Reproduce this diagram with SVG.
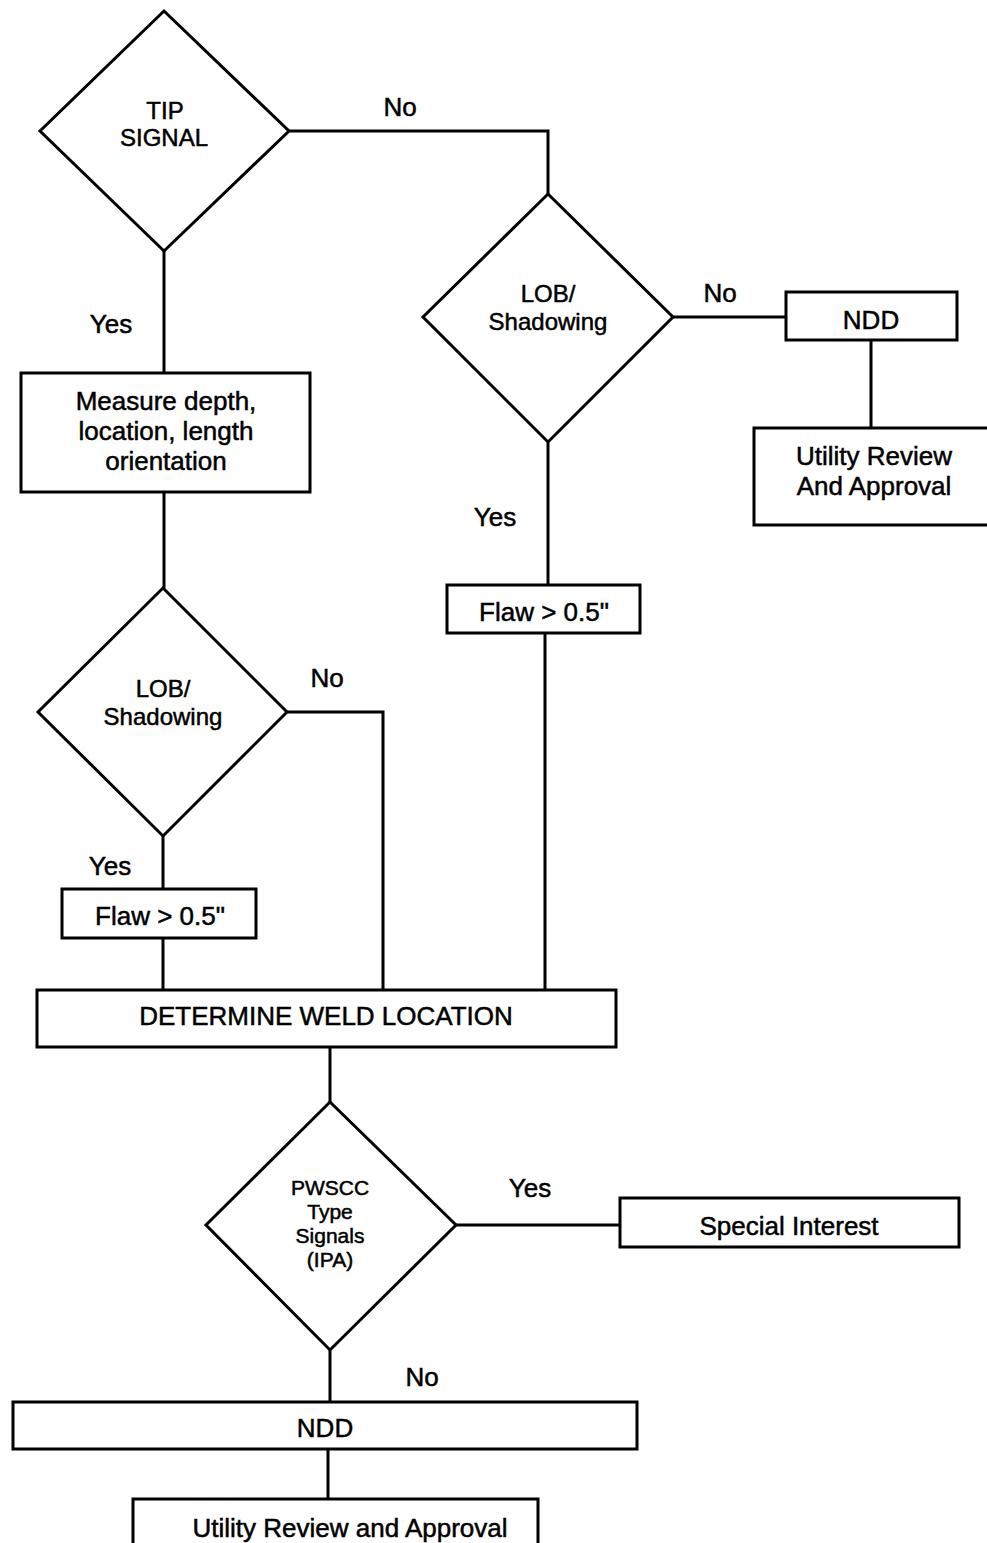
<svg xmlns="http://www.w3.org/2000/svg" width="987" height="1543" viewBox="0 0 987 1543">
<style>
.s{fill:#fff;stroke:#000;stroke-width:3;stroke-linejoin:miter}
.c{fill:none;stroke:#000;stroke-width:3}
text{font-family:"Liberation Sans",Arial,sans-serif;font-size:26px;fill:#000;stroke:#000;stroke-width:0.5;text-anchor:middle}
.d{font-size:24px}
.p{font-size:21px}
</style>
<rect width="987" height="1543" fill="#fff"/>
<g id="connectors">
<polyline class="c" points="289,131 548,131 548,194"/>
<line class="c" x1="164" y1="251" x2="164" y2="373"/>
<line class="c" x1="164" y1="492" x2="164" y2="588"/>
<line class="c" x1="673" y1="317" x2="786" y2="317"/>
<line class="c" x1="871" y1="340" x2="871" y2="428"/>
<line class="c" x1="548" y1="442" x2="548" y2="585"/>
<line class="c" x1="545" y1="633" x2="545" y2="990"/>
<polyline class="c" points="287,712 383,712 383,990"/>
<line class="c" x1="163" y1="836" x2="163" y2="889"/>
<line class="c" x1="163" y1="938" x2="163" y2="990"/>
<line class="c" x1="330" y1="1047" x2="330" y2="1102"/>
<line class="c" x1="456" y1="1225" x2="620" y2="1225"/>
<line class="c" x1="330" y1="1350" x2="330" y2="1402"/>
<line class="c" x1="328" y1="1449" x2="328" y2="1499"/>
<text x="400" y="116">No</text>
<text x="111" y="333">Yes</text>
<text x="720" y="302">No</text>
<text x="495" y="526">Yes</text>
<text x="327" y="687">No</text>
<text x="110" y="875">Yes</text>
<text x="530" y="1197">Yes</text>
<text x="422" y="1386">No</text>
</g>
<g id="tip">
<polygon class="s" points="164,11 289,131 164,251 40,131"/>
<text class="d" x="165" y="119">TIP</text>
<text class="d" x="164" y="146">SIGNAL</text>
</g>
<g id="measure">
<rect class="s" x="21" y="373" width="289" height="119"/>
<text x="166" y="410">Measure depth,</text>
<text x="166" y="440">location, length</text>
<text x="166" y="470">orientation</text>
</g>
<g id="lob-right">
<polygon class="s" points="548,194 673,317 548,442 423,317"/>
<text class="d" x="548" y="302">LOB/</text>
<text class="d" x="548" y="330">Shadowing</text>
</g>
<g id="ndd-right">
<rect class="s" x="786" y="292" width="171" height="48"/>
<text x="871" y="329">NDD</text>
</g>
<g id="utility-right">
<rect class="s" x="754" y="428" width="240" height="97"/>
<text x="874" y="465">Utility Review</text>
<text x="874" y="495">And Approval</text>
</g>
<g id="flaw-right">
<rect class="s" x="447" y="585" width="193" height="48"/>
<text x="544" y="621">Flaw &gt; 0.5"</text>
</g>
<g id="lob-left">
<polygon class="s" points="163,588 287,712 163,836 38,712"/>
<text class="d" x="163" y="697">LOB/</text>
<text class="d" x="163" y="725">Shadowing</text>
</g>
<g id="flaw-left">
<rect class="s" x="62" y="889" width="194" height="49"/>
<text x="160" y="925">Flaw &gt; 0.5"</text>
</g>
<g id="determine">
<rect class="s" x="37" y="990" width="579" height="57"/>
<text x="326" y="1025">DETERMINE WELD LOCATION</text>
</g>
<g id="pwscc">
<polygon class="s" points="330,1102 456,1225 330,1350 206,1225"/>
<text class="p" x="330" y="1195">PWSCC</text>
<text class="p" x="330" y="1219">Type</text>
<text class="p" x="330" y="1243">Signals</text>
<text class="p" x="330" y="1267">(IPA)</text>
</g>
<g id="special">
<rect class="s" x="620" y="1198" width="339" height="49"/>
<text x="789" y="1235">Special Interest</text>
</g>
<g id="ndd-bottom">
<rect class="s" x="13" y="1402" width="624" height="47"/>
<text x="325" y="1437">NDD</text>
</g>
<g id="utility-bottom">
<rect class="s" x="133" y="1499" width="405" height="70"/>
<text x="350" y="1537">Utility Review and Approval</text>
</g>
</svg>
